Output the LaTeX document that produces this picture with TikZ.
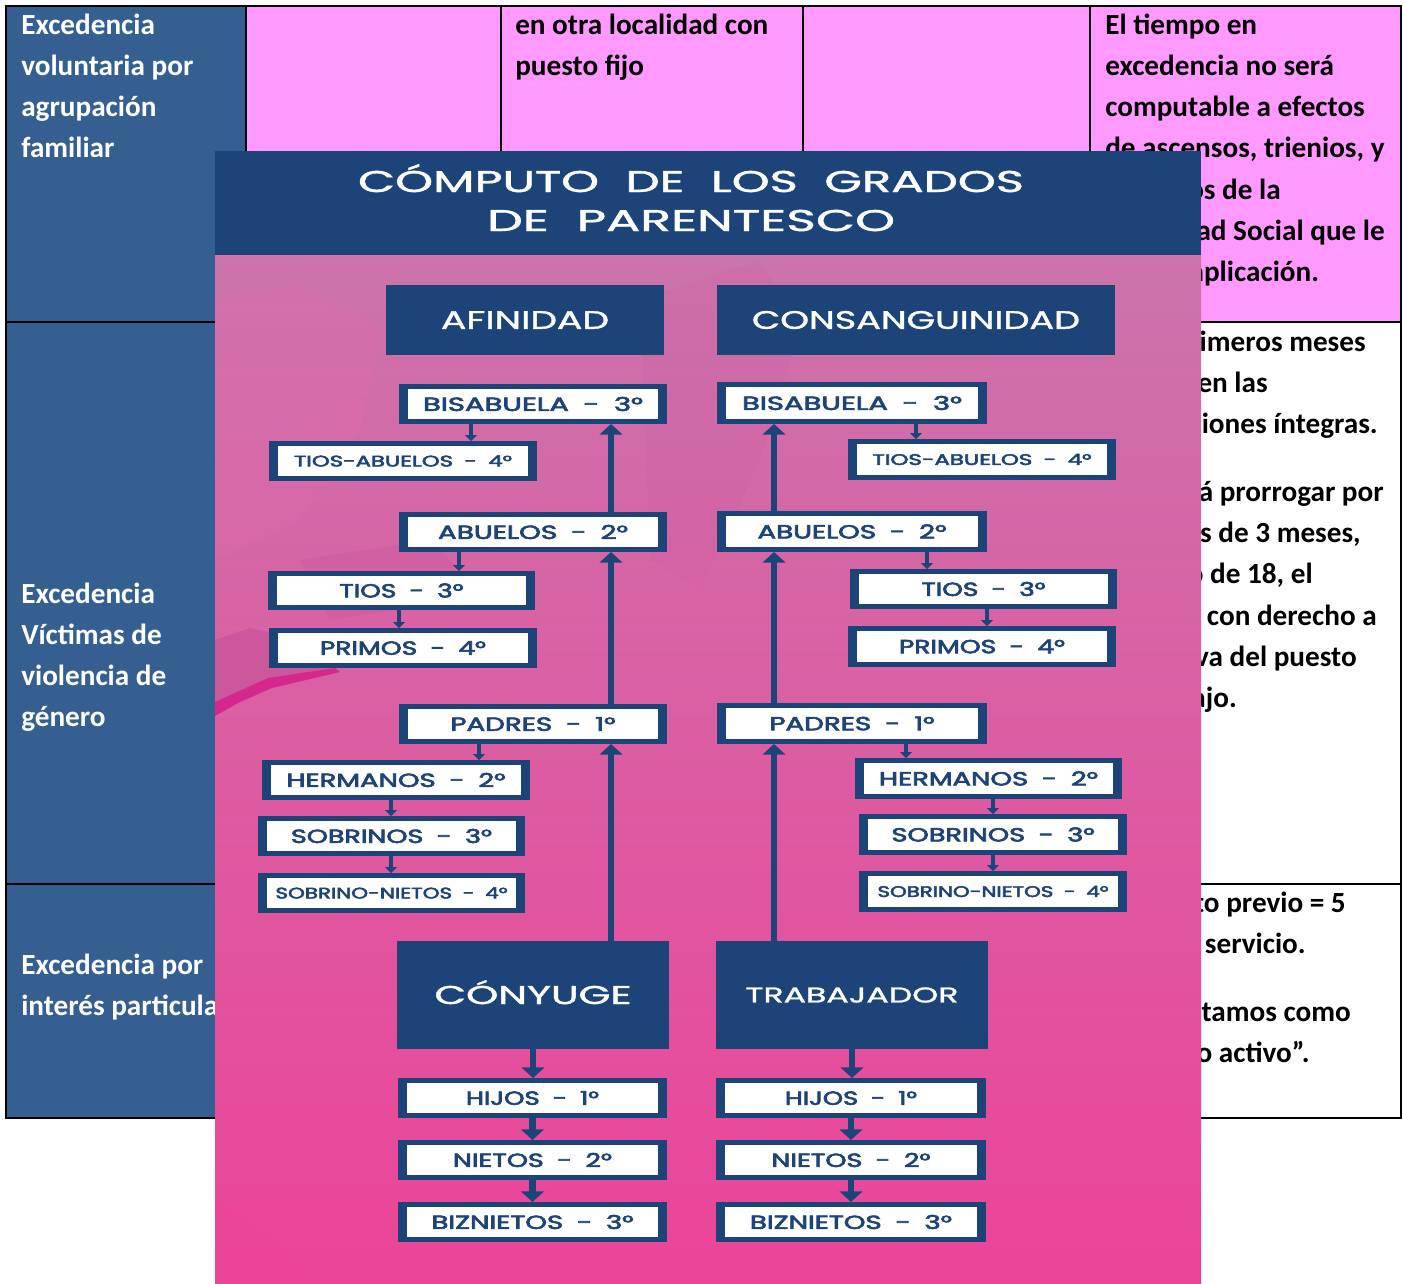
\documentclass[tikz,border=0pt]{standalone}
\usepackage{fontspec}
\usepackage{graphicx}
\setmainfont{Carlito}
\newfontfamily\pop[FakeBold=1.2]{Poppins}
\newfontfamily\popm[FakeBold=3]{Poppins}
\usetikzlibrary{arrows.meta,calc}
\newlength\pxl \setlength\pxl{0.75pt}
\definecolor{ink}{RGB}{29,68,121}
\definecolor{cellblue}{RGB}{54,95,145}
\definecolor{cellpink}{RGB}{255,153,255}
\definecolor{bgtop}{RGB}{204,116,172}
\definecolor{bgmid}{RGB}{221,98,164}
\definecolor{bgbot}{RGB}{236,68,152}
\definecolor{streak}{RGB}{214,40,140}
\definecolor{mauve}{RGB}{198,84,154}
\definecolor{lightrose}{RGB}{226,108,172}
\newcommand\lab[3]{\resizebox{#1\pxl}{\height}{\fontsize{#2}{#2}\selectfont #3}}
\newcommand\dsh{\hspace{0.5em}-\hspace{0.5em}}
\newcommand\lb[2]{\lab{#1}{14.25pt}{\popm #2}}
\newcommand\ls[2]{\lab{#1}{11.5pt}{\popm #2}}
\newcommand\tfont{\fontsize{21.9pt}{30pt}\selectfont\bfseries}
\begin{document}
\begin{tikzpicture}[x=0.75pt,y=-0.75pt,
  tline/.style={draw=black, line width=2pt},
  tw/.style={anchor=base west, inner sep=0pt, font=\tfont, text=white},
  tb/.style={anchor=base west, inner sep=0pt, font=\tfont, text=black},
  te/.style={anchor=base east, inner sep=0pt, font=\tfont, text=black},
  wbox/.style={fill=ink, inner sep=0pt, outer sep=0pt, text=ink,
    path picture={\fill[white] ([xshift=9\pxl,yshift=5\pxl]path picture bounding box.south west) rectangle ([xshift=-9\pxl,yshift=-5\pxl]path picture bounding box.north east);}},
  bbox/.style={fill=ink, inner sep=0pt, outer sep=0pt, text=white},
  sz/.style 2 args={minimum width=#1\pxl, minimum height=#2\pxl},
  bigarr/.style={draw=ink, line width=4.8pt, -{Triangle[width=17pt,length=8pt]}},
  smallarr/.style={draw=ink, line width=3.5pt, -{Triangle[width=9pt,length=4.5pt]}}]
\useasboundingbox (0,0) rectangle (1403,1283);
\fill[white] (0,0) rectangle (1403,1283);
% ---------------- table ----------------
\fill[cellblue] (6,6) rectangle (246,1118);
\fill[cellpink] (246,6) rectangle (1401,322);
\draw[tline] (6,6) rectangle (1401,1118);
\draw[tline] (6,322) -- (1401,322);
\draw[tline] (6,884) -- (1401,884);
\draw[tline] (246,6) -- (246,1118);
\draw[tline] (501,6) -- (501,322);
\draw[tline] (803,6) -- (803,322);
\draw[tline] (1090,6) -- (1090,1118);
% column 1
\node[tw] (c1a) at (21,34) {Excedencia};
\node[tw] (c1b) at (21,75) {voluntaria por};
\node[tw] (c1c) at (21,116) {agrupación};
\node[tw] (c1d) at (21,157) {familiar};
\node[tw] (c2a) at (21,603) {Excedencia};
\node[tw] (c2b) at (21,644) {Víctimas de};
\node[tw] (c2c) at (21,685) {violencia de};
\node[tw] (c2d) at (21,726) {género};
\node[tw] (c3a) at (21,974) {Excedencia por};
\node[tw] (c3b) at (21,1015) {interés particular};
% column 3
\node[tb] (d1a) at (515,34) {en otra localidad con};
\node[tb] (d1b) at (515,75) {puesto fijo};
% column 5
\node[tb] (e1a) at (1105,34) {El tiempo en};
\node[tb] (e1b) at (1105,75) {excedencia no será};
\node[tb] (e1c) at (1105,116) {computable a efectos};
\node[tb] (e1d) at (1105,157) {de ascensos, trienios, y};
\node[tb] (e1e) at (1105,199) {derechos de la};
\node[tb] (e1f) at (1105,240) {Seguridad Social que le};
\node[tb] (e1g) at (1105,281) {sea de aplicación.};
\node[te] (e2a) at (1366,351) {Los primeros meses};
\node[te] (e2b) at (1268,392) {perciben las};
\node[te] (e2c) at (1378,433) {retribuciones íntegras.};
\node[te] (e2d) at (1384,501) {Se podrá prorrogar por};
\node[te] (e2e) at (1361,542) {periodos de 3 meses,};
\node[te] (e2f) at (1313,583) {un máximo de 18, el};
\node[te] (e2g) at (1377,625) {Continúa con derecho a};
\node[te] (e2h) at (1357,666) {reserva del puesto};
\node[te] (e2i) at (1237,707) {de trabajo.};
\node[te] (e3a) at (1346,912) {Requisito previo = 5};
\node[te] (e3b) at (1306,953) {años de servicio.};
\node[te] (e3c) at (1351,1021) {No lo contamos como};
\node[te] (e3d) at (1310,1062) {“servicio activo”.};
% ---------------- infographic ----------------
\begin{scope}
\clip (215,151) rectangle (1201,1283);
\shade[top color=bgtop, middle color=bgmid, bottom color=bgbot] (215,255) rectangle (1201,1283);
\fill[lightrose, opacity=.3] (215,300) -- (300,285) -- (380,330) -- (360,430) -- (300,520) -- (215,560) -- cycle;
\fill[mauve, opacity=.3] (300,560) -- (430,540) -- (470,580) -- (430,605) -- (330,620) -- cycle;
\fill[mauve, opacity=.12] (640,300) -- (760,260) -- (800,330) -- (760,460) -- (700,590) -- (650,560) -- cycle;
\fill[mauve, opacity=.7] (215,640) -- (250,628) -- (300,640) -- (335,668) -- (268,678) -- (215,702) -- cycle;
\fill[streak] (215,702) -- (268,678) -- (335,668) -- (340,672) -- (272,688) -- (240,702) -- (215,716) -- cycle;
\fill[bgbot, opacity=.35] (215,1200) -- (330,1283) -- (215,1283) -- cycle;
\end{scope}
\fill[ink] (215,151) rectangle (1201,255);
\node[anchor=base, inner sep=0pt, text=white] (t1) at (691,192) {\lab{666}{22.5pt}{\pop CÓMPUTO\hspace{0.55em}DE\hspace{0.55em}LOS\hspace{0.55em}GRADOS}};
\node[anchor=base, inner sep=0pt, text=white] (t2) at (691,231) {\lab{408}{22.5pt}{\pop DE\hspace{0.55em}PARENTESCO}};
% categories
\node[bbox, sz={278}{70}] (afi) at (525,320) {\lab{168}{19pt}{\pop AFINIDAD}};
\node[bbox, sz={398}{70}] (cons) at (916,320) {\lab{328}{19pt}{\pop CONSANGUINIDAD}};
% left column
\node[wbox, sz={268}{40}] (lbis) at (533,404) {\lb{220}{BISABUELA\dsh 3°}};
\node[wbox, sz={268}{40}] (ltab) at (403,461) {\ls{218}{TIOS-ABUELOS\dsh 4°}};
\node[wbox, sz={268}{40}] (labu) at (533,532) {\lb{190}{ABUELOS\dsh 2°}};
\node[wbox, sz={267}{39}] (ltio) at (401.5,590.5) {\lb{124}{TIOS\dsh 3°}};
\node[wbox, sz={268}{40}] (lpri) at (403,648) {\lb{166}{PRIMOS\dsh 4°}};
\node[wbox, sz={268}{40}] (lpad) at (533,724) {\lb{165}{PADRES\dsh 1°}};
\node[wbox, sz={268}{40}] (lher) at (396,780) {\lb{219}{HERMANOS\dsh 2°}};
\node[wbox, sz={267}{40}] (lsob) at (391.5,836) {\lb{201}{SOBRINOS\dsh 3°}};
\node[wbox, sz={267}{40}] (lsn) at (391.5,893) {\ls{232}{SOBRINO-NIETOS\dsh 4°}};
\node[bbox, sz={272}{108}] (lcon) at (533,995) {\lab{197}{19.3pt}{\pop C\smash{Ó}NYUGE}};
\node[wbox, sz={269}{40}] (lhij) at (532.5,1098) {\lb{133}{HIJOS\dsh 1°}};
\node[wbox, sz={269}{40}] (lnie) at (532.5,1160) {\lb{159}{NIETOS\dsh 2°}};
\node[wbox, sz={269}{40}] (lbiz) at (532.5,1222) {\lb{202}{BIZNIETOS\dsh 3°}};
% right column
\node[wbox, sz={270}{42}] (rbis) at (852,403) {\lb{220}{BISABUELA\dsh 3°}};
\node[wbox, sz={268}{41}] (rtab) at (982,459.5) {\ls{219}{TIOS-ABUELOS\dsh 4°}};
\node[wbox, sz={270}{41}] (rabu) at (852,531.5) {\lb{189}{ABUELOS\dsh 2°}};
\node[wbox, sz={267}{40}] (rtio) at (983.5,589) {\lb{124}{TIOS\dsh 3°}};
\node[wbox, sz={268}{41}] (rpri) at (982,646.5) {\lb{166}{PRIMOS\dsh 4°}};
\node[wbox, sz={270}{41}] (rpad) at (852,723.5) {\lb{165}{PADRES\dsh 1°}};
\node[wbox, sz={267}{41}] (rher) at (988.5,778.5) {\lb{219}{HERMANOS\dsh 2°}};
\node[wbox, sz={268}{41}] (rsob) at (993,834.5) {\lb{203}{SOBRINOS\dsh 3°}};
\node[wbox, sz={268}{41}] (rsn) at (993,891.5) {\ls{231}{SOBRINO-NIETOS\dsh 4°}};
\node[bbox, sz={272}{108}] (rtra) at (852,995) {\lab{213}{16pt}{\pop TRABAJADOR}};
\node[wbox, sz={270}{40}] (rhij) at (851,1098) {\lb{132}{HIJOS\dsh 1°}};
\node[wbox, sz={270}{40}] (rnie) at (851,1160) {\lb{159}{NIETOS\dsh 2°}};
\node[wbox, sz={270}{40}] (rbiz) at (851,1222) {\lb{202}{BIZNIETOS\dsh 3°}};
% connector x positions
\coordinate (xL) at (611,0);
\coordinate (xR) at (774,0);
\coordinate (a1) at (471,0);
\coordinate (a2) at (459,0);
\coordinate (a3) at (399,0);
\coordinate (a4) at (479,0);
\coordinate (a5) at (391,0);
\coordinate (b1) at (916,0);
\coordinate (b2) at (927,0);
\coordinate (b3) at (987,0);
\coordinate (b4) at (906,0);
\coordinate (b5) at (993,0);
% main ascending lines
\draw[bigarr] (xL |- lcon.north) -- (xL |- lpad.south);
\draw[bigarr] (xL |- lpad.north) -- (xL |- labu.south);
\draw[bigarr] (xL |- labu.north) -- (xL |- lbis.south);
\draw[bigarr] (xR |- rtra.north) -- (xR |- rpad.south);
\draw[bigarr] (xR |- rpad.north) -- (xR |- rabu.south);
\draw[bigarr] (xR |- rabu.north) -- (xR |- rbis.south);
% side branches
\draw[smallarr] (a1 |- lbis.south) -- (a1 |- ltab.north);
\draw[smallarr] (a2 |- labu.south) -- (a2 |- ltio.north);
\draw[smallarr] (a3 |- ltio.south) -- (a3 |- lpri.north);
\draw[smallarr] (a4 |- lpad.south) -- (a4 |- lher.north);
\draw[smallarr] (a5 |- lher.south) -- (a5 |- lsob.north);
\draw[smallarr] (a5 |- lsob.south) -- (a5 |- lsn.north);
\draw[smallarr] (b1 |- rbis.south) -- (b1 |- rtab.north);
\draw[smallarr] (b2 |- rabu.south) -- (b2 |- rtio.north);
\draw[smallarr] (b3 |- rtio.south) -- (b3 |- rpri.north);
\draw[smallarr] (b4 |- rpad.south) -- (b4 |- rher.north);
\draw[smallarr] (b5 |- rher.south) -- (b5 |- rsob.north);
\draw[smallarr] (b5 |- rsob.south) -- (b5 |- rsn.north);
% descendants
\draw[bigarr] (lcon.south) -- (lcon.south |- lhij.north);
\draw[bigarr] (lhij.south) -- (lhij.south |- lnie.north);
\draw[bigarr] (lnie.south) -- (lnie.south |- lbiz.north);
\draw[bigarr] (rtra.south) -- (rtra.south |- rhij.north);
\draw[bigarr] (rhij.south) -- (rhij.south |- rnie.north);
\draw[bigarr] (rnie.south) -- (rnie.south |- rbiz.north);
\end{tikzpicture}
\end{document}
